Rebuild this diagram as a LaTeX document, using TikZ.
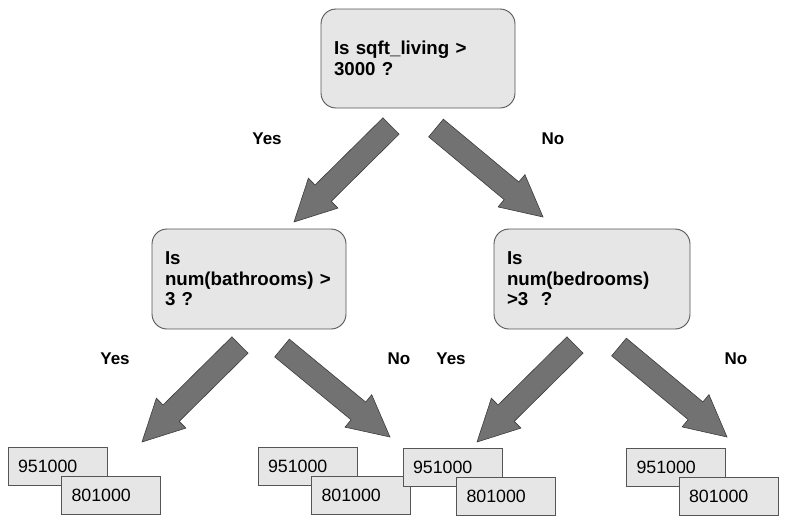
\documentclass[tikz,border=0pt]{standalone}
\usepackage{fontspec}
\setmainfont{Liberation Sans}
\usetikzlibrary{calc}
\definecolor{boxfill}{HTML}{E6E6E6}
\definecolor{boxline}{HTML}{555555}
\definecolor{arrfill}{HTML}{727272}
\definecolor{arrline}{HTML}{3C3C3C}
\tikzset{
  qbox/.style={draw=boxline, fill=boxfill, line width=0.9pt, rounded corners=15pt,
    minimum height=100pt, inner xsep=13pt, inner ysep=0pt, align=left,
    font=\fontsize{18.7}{20.5}\selectfont\bfseries},
  leafbox/.style={draw=boxline, fill=boxfill, line width=0.9pt,
    minimum height=38pt, inner xsep=10pt, inner ysep=0pt, text width=79pt, align=left,
    font=\fontsize{17.8}{20}\selectfont},
  lbl/.style={font=\fontsize{17}{18}\selectfont\bfseries, inner sep=0pt},
  blockarrow/.style={fill=arrfill, draw=arrline, line width=0.6pt, line join=miter}
}
\newcommand{\barrow}[2]{%
  \coordinate (#1h) at ($(#2)!41pt!(#1)$);
  \path[blockarrow] ($(#1)!11.5pt!90:(#2)$) -- ($(#1h)!11.5pt!90:(#2)$)
    -- ($(#1h)!21pt!90:(#2)$) -- (#2) -- ($(#1h)!21pt!-90:(#2)$)
    -- ($(#1h)!11.5pt!-90:(#2)$) -- ($(#1)!11.5pt!-90:(#2)$) -- cycle;
}
\begin{document}
\begin{tikzpicture}[x=1pt,y=-1pt]
\useasboundingbox (0,0) rectangle (786,523);
% question boxes
\node[qbox, text width=168pt, minimum height=99pt] (top) at (418,58.5) {Is sqft\_living >\\3000 ?};
\node[qbox, text width=168pt] (ml) at (249,279) {Is\\num(bathrooms) >\\3 ?};
\node[qbox, text width=170pt] (mr) at (592,279) {Is\\num(bedrooms)\\>3\ \ ?};
% arrows
\coordinate (a1t) at (391,126); \coordinate (a1h) at (294,222);
\coordinate (a2t) at (436,128); \coordinate (a2h) at (543,217);
\coordinate (a3t) at (240,345); \coordinate (a3h) at (142,442);
\coordinate (a4t) at (282,348); \coordinate (a4h) at (390,437);
\coordinate (a5t) at (575,345); \coordinate (a5h) at (477,442);
\coordinate (a6t) at (619,347); \coordinate (a6h) at (727,437);
\barrow{a1t}{a1h}
\barrow{a2t}{a2h}
\barrow{a3t}{a3h}
\barrow{a4t}{a4h}
\barrow{a5t}{a5h}
\barrow{a6t}{a6h}
% labels
\node[lbl] (y1) at (267,139) {Yes};
\node[lbl] (n1) at (553,139) {No};
\node[lbl] (y2) at (115,359) {Yes};
\node[lbl] (n2) at (399,359) {No};
\node[lbl] (y3) at (451,359) {Yes};
\node[lbl] (n3) at (736,359) {No};
% leaves
\node[leafbox] (l1a) at (57.5,466) {951000};
\node[leafbox] (l1b) at (111,495.5) {801000};
\node[leafbox] (l2a) at (307.5,466.5) {951000};
\node[leafbox] (l2b) at (361,495.5) {801000};
\node[leafbox] (l3a) at (452.5,467.5) {951000};
\node[leafbox] (l3b) at (506,496) {801000};
\node[leafbox] (l4a) at (676,467) {951000};
\node[leafbox] (l4b) at (728.5,496) {801000};
\end{tikzpicture}
\end{document}
